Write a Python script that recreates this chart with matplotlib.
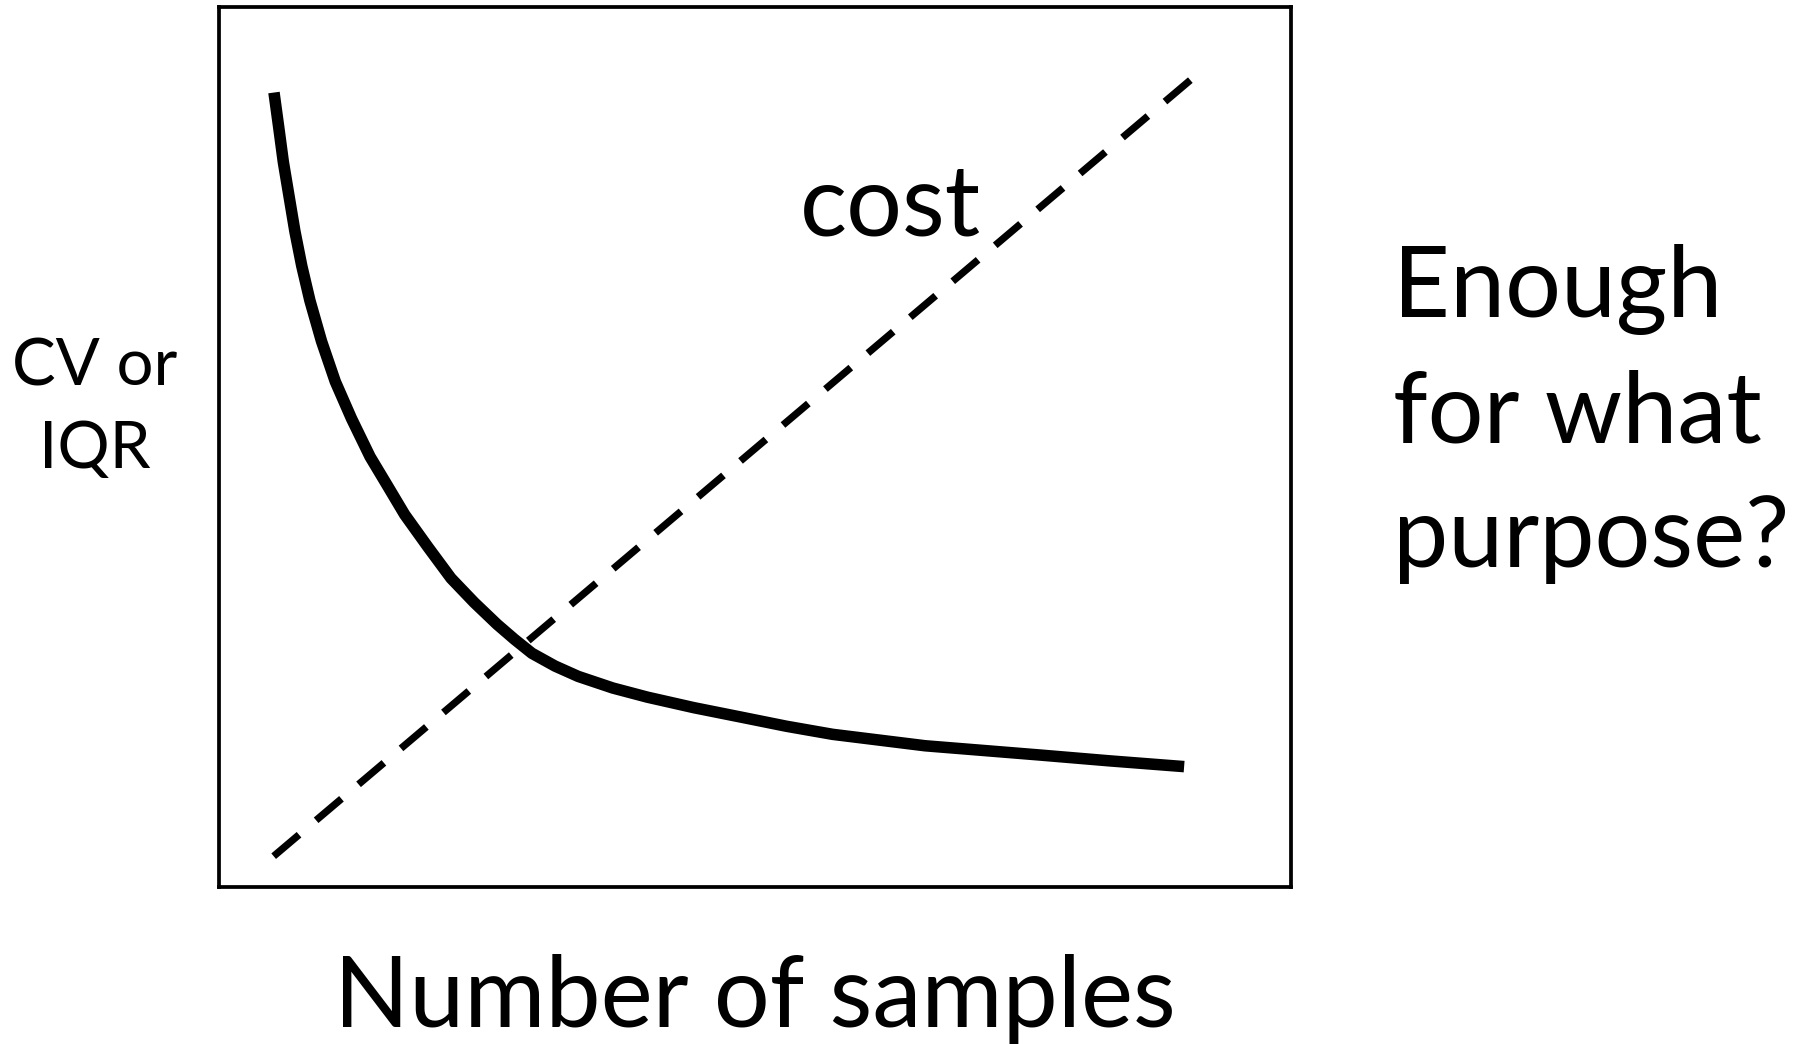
import matplotlib
matplotlib.use("Agg")
from matplotlib import pyplot as plt

plt.rcParams['font.family'] = ['Lato', 'DejaVu Sans']

# sketch values, axes run 0-100 both ways
cv_x = [5.13, 5.57, 6.00, 6.54, 7.08, 7.72, 8.48, 9.56, 10.85, 12.36, 14.09, 15.71,
        17.32, 19.48, 21.64, 23.80, 25.95, 27.57, 29.19, 31.34, 33.51, 36.74, 39.97,
        44.29, 48.60, 52.92, 57.23, 61.55, 65.86, 71.26, 76.65, 83.12, 90.03]
cv_y = [90.28, 86.34, 82.40, 78.45, 74.51, 70.58, 66.64, 62.03, 57.43, 53.23, 48.90, 45.61,
        42.32, 38.65, 35.09, 32.34, 29.84, 28.14, 26.56, 25.11, 23.93, 22.61, 21.57,
        20.38, 19.33, 18.27, 17.35, 16.70, 16.05, 15.52, 14.99, 14.33, 13.68]

cost_x = [5.1, 91.2]
cost_y = [3.5, 92.3]

W, H = 1813, 1044


def fx(x):
    return x / W


def fy(y):
    return 1 - y / H


fig = plt.figure(figsize=(W / 100, H / 100), dpi=100)
ax = fig.add_axes([fx(219), fy(887), 1072 / W, 880 / H])
ax.set_xlim(0, 100)
ax.set_ylim(0, 100)
ax.set_xticks([])
ax.set_yticks([])
for s in ax.spines.values():
    s.set_linewidth(2.7)
    s.set_color("black")

ax.plot(cv_x, cv_y, color="black", linewidth=8.3, solid_capstyle="butt", solid_joinstyle="round")
ax.plot(cost_x, cost_y, color="black", linewidth=5.2, linestyle=(0, (4.6, 3.1)), dash_capstyle="butt")

fig.text(fx(890), fy(235), "cost", fontsize=71, ha="center", va="baseline")
fig.text(fx(755), fy(1027), "Number of samples", fontsize=71, ha="center", va="baseline")
# baseline here is the last line's
fig.text(fx(1393), fy(567), "Enough\nfor what\npurpose?", fontsize=71, ha="left",
         va="baseline", linespacing=1.47)
fig.text(fx(95), fy(468), "CV or\nIQR", fontsize=47, ha="center", va="baseline",
         linespacing=1.5)

fig.savefig("out.png", dpi=100)
